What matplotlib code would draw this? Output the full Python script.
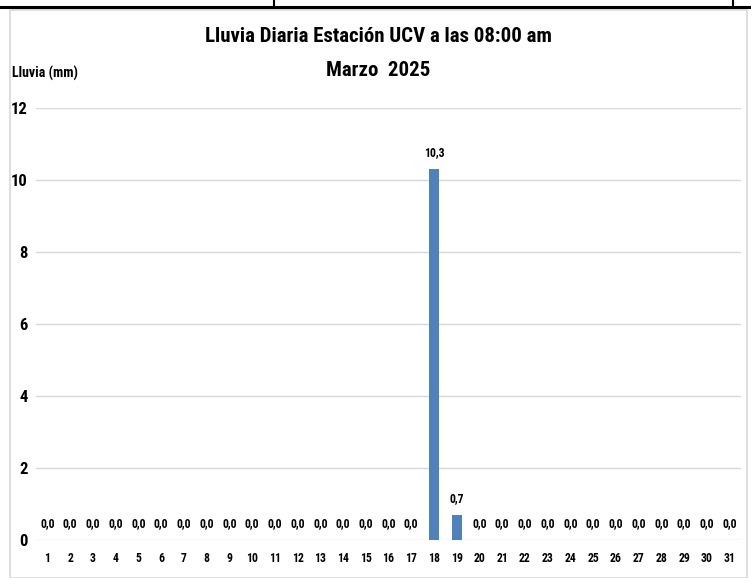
import numpy as np
import matplotlib.pyplot as plt
from matplotlib.lines import Line2D
from matplotlib.patches import Rectangle

## daily rain, March 2025
dias = [str(d) for d in range(1, 32)]
lluvia = [0.0] * 17 + [10.3, 0.7] + [0.0] * 12
y_ticks = [0, 2, 4, 6, 8, 10, 12]

## narrow fonts first, whatever is installed gets used
FONT = ['Roboto Condensed', 'Open Sans Condensed', 'Liberation Sans Narrow',
        'DejaVu Sans Condensed', 'Liberation Sans']
plt.rcParams['font.family'] = FONT
plt.rcParams['font.weight'] = 'bold'
plt.rcParams['font.stretch'] = 'condensed'

W, H = 751, 578
fig = plt.figure(figsize=(W / 100, H / 100), dpi=100)

## frame lines of the sheet around the chart
fig.add_artist(Rectangle((10 / W, 0), 737 / W, 1 - 10 / H, transform=fig.transFigure,
                         fill=False, edgecolor='#D9D9D9', lw=1.2))
fig.add_artist(Line2D([0, 1], [1 - 7 / H, 1 - 7 / H], transform=fig.transFigure,
                      color='black', lw=2.2))
for xp in (274, 733):
    fig.add_artist(Line2D([xp / W, xp / W], [1 - 7 / H, 1], transform=fig.transFigure,
                          color='black', lw=1.5))

ax = fig.add_axes([36 / W, 38 / H, 705 / W, 432 / H])
x = np.arange(len(dias))
bars = ax.bar(x, lluvia, width=0.44, color='#4F81BD', zorder=3)

for xi, v in zip(x, lluvia):
    ax.annotate(f"{v:.1f}".replace('.', ','), (xi, v), xytext=(0, 7),
                textcoords='offset points', ha='center', va='bottom',
                fontsize=8.5, fontweight='bold')

ax.set_xlim(-0.5, len(dias) - 0.5)
ax.set_ylim(0, 12)
ax.set_yticks(y_ticks)
ax.set_yticklabels([str(t) for t in y_ticks], fontsize=12, fontweight='bold')
ax.set_xticks(x)
ax.set_xticklabels(dias, fontsize=8.5, fontweight='bold')
ax.tick_params(axis='both', length=0)
ax.tick_params(axis='y', pad=6)
ax.tick_params(axis='x', pad=9)
ax.grid(axis='y', color='#D9D9D9', lw=1, zorder=0)
for s in ax.spines.values():
    s.set_visible(False)

fig.text(378 / W, 1 - 37 / H, "Lluvia Diaria Estación UCV a las 08:00 am",
         ha='center', va='center', fontsize=15, fontweight='bold')
fig.text(378 / W, 1 - 70 / H, "Marzo  2025",
         ha='center', va='center', fontsize=15, fontweight='bold')
fig.text(12 / W, 1 - 73 / H, "Lluvia (mm)", ha='left', va='center',
         fontsize=10, fontweight='bold')

fig.savefig('out.png', dpi=100)
